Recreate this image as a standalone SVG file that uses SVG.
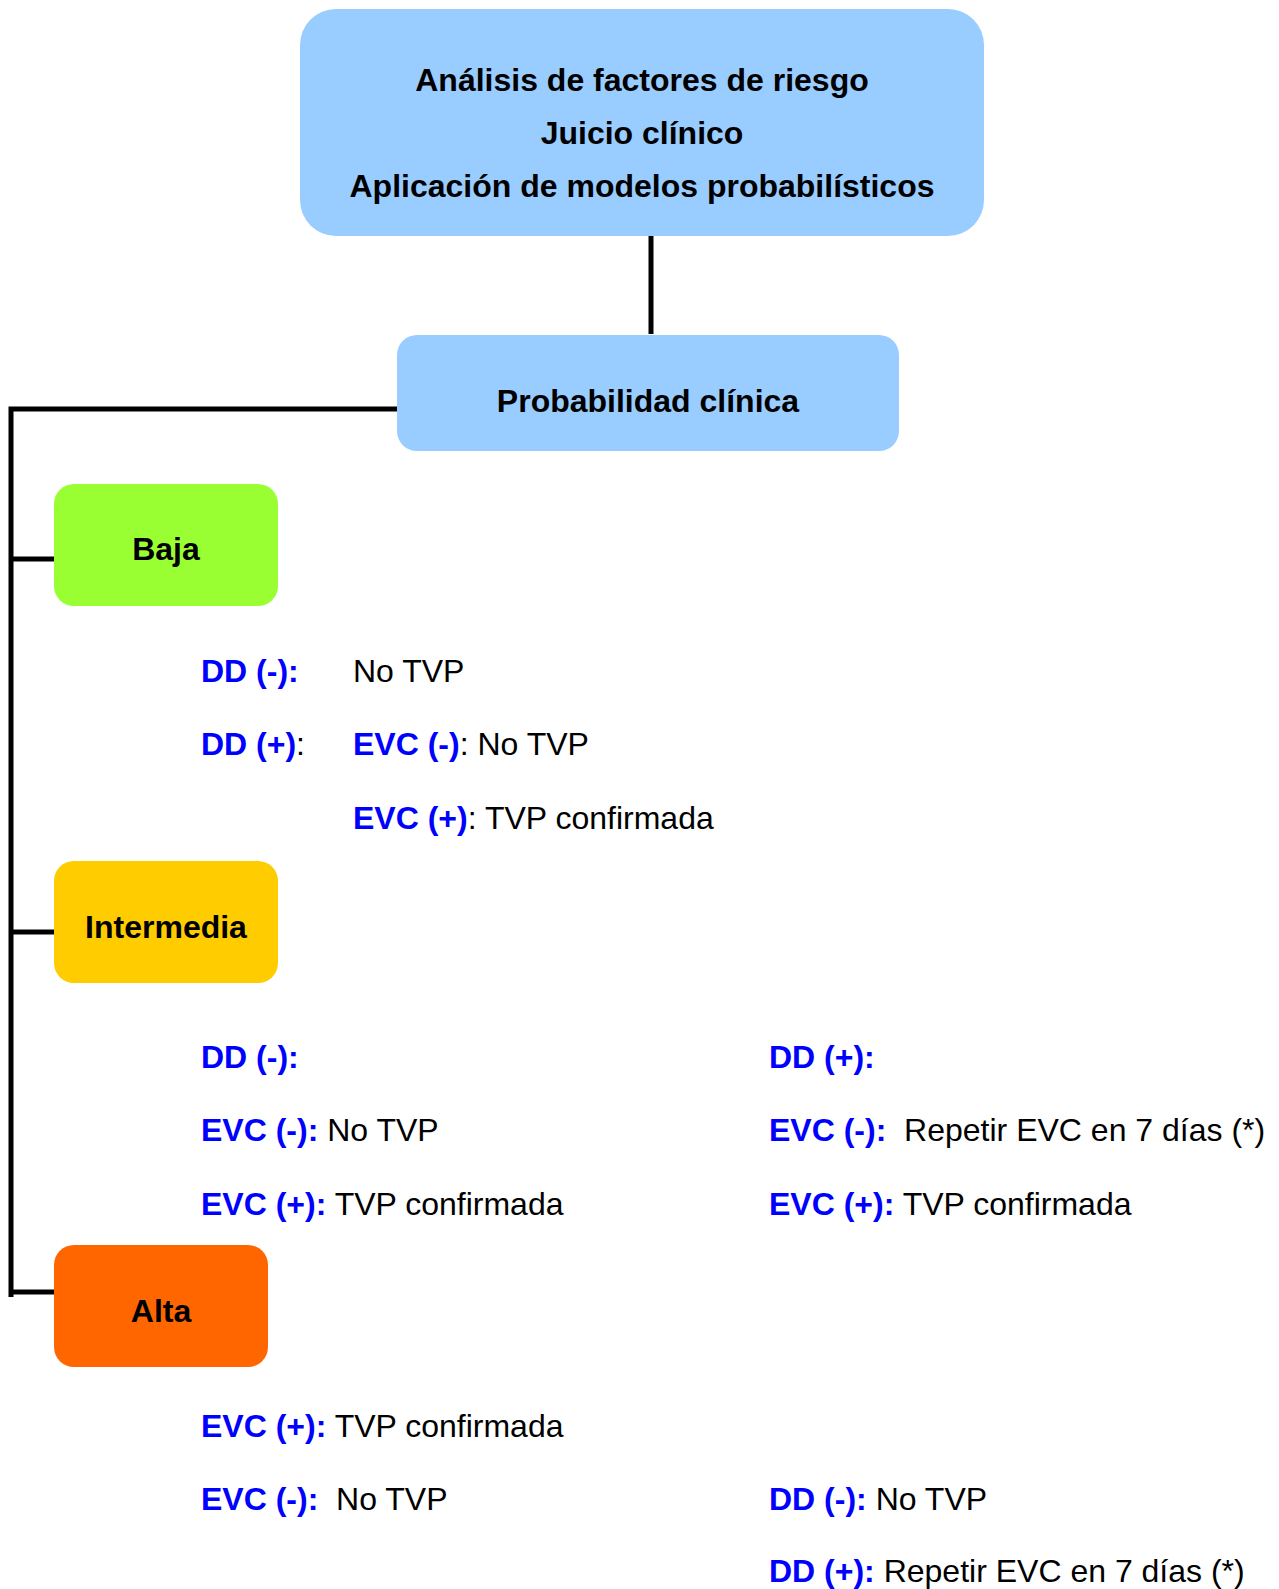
<svg xmlns="http://www.w3.org/2000/svg" width="1279" height="1589" viewBox="0 0 1279 1589">
  <style>
    text { font-family: "Liberation Sans", Arial, sans-serif; font-size: 32px; fill: #000; white-space: pre; }
    .lbl { font-weight: bold; text-anchor: middle; }
    .k { font-weight: bold; fill: #0000FF; }
    .line { stroke: #000; stroke-width: 5; fill: none; }
  </style>
  <rect width="1279" height="1589" fill="#fff"/>

  <!-- connectors -->
  <g id="connectors">
    <line class="line" x1="651" y1="236" x2="651" y2="334"/>
    <polyline class="line" points="397,409 11,409 11,1297"/>
    <line class="line" x1="11" y1="559" x2="54" y2="559"/>
    <line class="line" x1="11" y1="932" x2="54" y2="932"/>
    <line class="line" x1="11" y1="1292" x2="54" y2="1292"/>
  </g>

  <!-- nodes -->
  <g id="node-evaluacion">
    <rect x="300" y="9" width="684" height="227" rx="36" fill="#99CCFF"/>
    <text class="lbl" x="642" y="91">Análisis de factores de riesgo</text>
    <text class="lbl" x="642" y="144">Juicio clínico</text>
    <text class="lbl" x="642" y="197">Aplicación de modelos probabilísticos</text>
  </g>

  <g id="node-probabilidad">
    <rect x="397" y="335" width="502" height="116" rx="20" fill="#99CCFF"/>
    <text class="lbl" x="648" y="412">Probabilidad clínica</text>
  </g>

  <g id="node-baja">
    <rect x="54" y="484" width="224" height="122" rx="20" fill="#99FF33"/>
    <text class="lbl" x="166" y="560">Baja</text>
  </g>

  <g id="node-intermedia">
    <rect x="54" y="861" width="224" height="122" rx="20" fill="#FFCC00"/>
    <text class="lbl" x="166" y="938">Intermedia</text>
  </g>

  <g id="node-alta">
    <rect x="54" y="1245" width="214" height="122" rx="20" fill="#FF6600"/>
    <text class="lbl" x="161" y="1322">Alta</text>
  </g>

  <!-- pathway: baja -->
  <g id="texto-baja">
    <text x="201" y="682"><tspan class="k">DD (-):</tspan></text>
    <text x="353" y="682">No TVP</text>
    <text x="201" y="755"><tspan class="k">DD (+)</tspan>:</text>
    <text x="353" y="755"><tspan class="k">EVC (-)</tspan>: No TVP</text>
    <text x="353" y="829"><tspan class="k">EVC (+)</tspan>: TVP confirmada</text>
  </g>

  <!-- pathway: intermedia -->
  <g id="texto-intermedia">
    <text x="201" y="1068"><tspan class="k">DD (-):</tspan></text>
    <text x="201" y="1141"><tspan class="k">EVC (-):</tspan> No TVP</text>
    <text x="201" y="1215"><tspan class="k">EVC (+):</tspan> TVP confirmada</text>
    <text x="769" y="1068"><tspan class="k">DD (+):</tspan></text>
    <text x="769" y="1141"><tspan class="k">EVC (-):</tspan>  Repetir EVC en 7 días (*)</text>
    <text x="769" y="1215"><tspan class="k">EVC (+):</tspan> TVP confirmada</text>
  </g>

  <!-- pathway: alta -->
  <g id="texto-alta">
    <text x="201" y="1437"><tspan class="k">EVC (+):</tspan> TVP confirmada</text>
    <text x="201" y="1510"><tspan class="k">EVC (-):</tspan>  No TVP</text>
    <text x="769" y="1510"><tspan class="k">DD (-):</tspan> No TVP</text>
    <text x="769" y="1582"><tspan class="k">DD (+):</tspan> Repetir EVC en 7 días (*)</text>
  </g>
</svg>
